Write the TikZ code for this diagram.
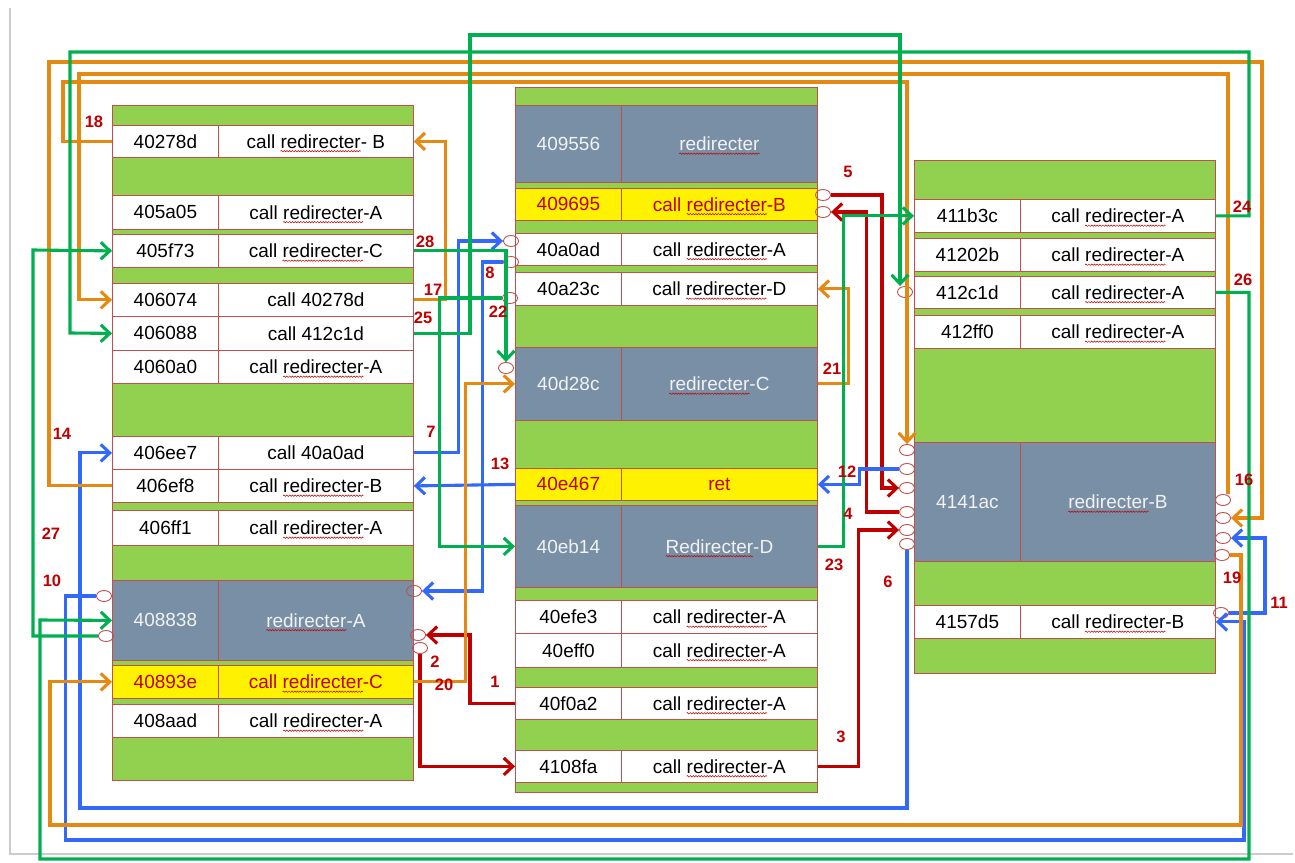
\documentclass[tikz,border=0pt]{standalone}
\usepackage{fontspec}
\setmainfont{Liberation Sans}
\usepackage{tikz}
\usetikzlibrary{arrows.meta,shapes.geometric,decorations.pathmorphing}
\definecolor{lgreen}{RGB}{146,208,80}
\definecolor{slate}{RGB}{120,143,166}
\definecolor{cellln}{RGB}{192,80,77}
\definecolor{hotred}{RGB}{192,0,0}
\definecolor{wgreen}{RGB}{0,176,80}
\definecolor{worange}{RGB}{228,138,18}
\definecolor{wblue}{RGB}{50,105,250}
\definecolor{wred}{RGB}{192,0,0}
\newcommand{\cellfont}{\fontsize{19}{22}\selectfont}
\newcommand{\numfont}{\fontsize{16.5}{19}\selectfont\bfseries}
\newlength{\sqwd}
\newcommand{\squig}[1]{\settowidth{\sqwd}{#1}\rlap{\tikz[overlay]\draw[draw=hotred,line width=0.5pt,decorate,decoration={snake,amplitude=0.7pt,segment length=2.8pt}] (0pt,-3pt) -- (\sqwd,-3pt);}#1}
\tikzset{
  cell/.style={draw=cellln, line width=0.8pt, fill=white, inner sep=0pt, anchor=north west, font=\cellfont},
  hot/.style={cell, fill=yellow, text=hotred},
  dark/.style={cell, fill=slate, text=white!95!black},
  blk/.style={draw=cellln, line width=0.9pt, fill=lgreen},
  port/.style={ellipse, draw=cellln, line width=0.9pt, minimum width=15pt, minimum height=11pt, inner sep=0pt},
  num/.style={font=\numfont, text=hotred, inner sep=0pt},
  lnk/.style={line width=3.1pt, -{Straight Barb[length=9pt,width=17pt]}},
  gr/.style={lnk, draw=wgreen},
  or/.style={lnk, draw=worange},
  bl/.style={lnk, draw=wblue},
  rd/.style={lnk, draw=wred},
  pageln/.style={draw=black!20, line width=1.8pt}
}
\begin{document}
\begin{tikzpicture}[x=1pt,y=-1pt]
\useasboundingbox (0,0) rectangle (1295,862);
\draw[pageln] (10,8) -- (10,854) -- (1293,854);
% left column
\draw[blk] (112,105) rectangle (413,780);
\foreach \n/\y/\h/\sty/\txt in {
40278d/125/32/cell/{call \squig{redirecter}- B},
405a05/195/34/cell/{call \squig{redirecter}-A},
405f73/234/33/cell/{call \squig{redirecter}-C},
406074/283/33/cell/{call 40278d},
406088/316/34/cell/{call 412c1d},
4060a0/350/33/cell/{call \squig{redirecter}-A},
406ee7/436/33/cell/{call 40a0ad},
406ef8/469/33/cell/{call \squig{redirecter}-B},
406ff1/510/35/cell/{call \squig{redirecter}-A},
408838/580/80/dark/{\squig{redirecter}-A},
40893e/665/33/hot/{call \squig{redirecter}-C},
408aad/704/33/cell/{call \squig{redirecter}-A}}{
  \node[\sty, minimum width=106, minimum height=\h] (a\n) at (112,\y) {\n};
  \node[\sty, minimum width=195, minimum height=\h] (t\n) at (218,\y) {\txt};
}
% middle column
\draw[blk] (515,87) rectangle (817,792);
\foreach \n/\y/\h/\sty/\txt in {
409556/105/77/dark/{\squig{redirecter}},
409695/188/32/hot/{call \squig{redirecter}-B},
40a0ad/233/32/cell/{call \squig{redirecter}-A},
40a23c/272/33/cell/{call \squig{redirecter}-D},
40d28c/347/73/dark/{\squig{redirecter}-C},
40e467/468/32/hot/{ret},
40eb14/505/82/dark/{\squig{Redirecter}-D},
40efe3/600/33/cell/{call \squig{redirecter}-A},
40eff0/633/34/cell/{call \squig{redirecter}-A},
40f0a2/687/32/cell/{call \squig{redirecter}-A},
4108fa/750/32/cell/{call \squig{redirecter}-A}}{
  \node[\sty, minimum width=106, minimum height=\h] (a\n) at (515,\y) {\n};
  \node[\sty, minimum width=196, minimum height=\h] (t\n) at (621,\y) {\txt};
}
% right column
\draw[blk] (914,160) rectangle (1215,673);
\foreach \n/\y/\h/\sty/\txt in {
411b3c/199/33/cell/{call \squig{redirecter}-A},
41202b/238/33/cell/{call \squig{redirecter}-A},
412c1d/276/32/cell/{call \squig{redirecter}-A},
412ff0/315/33/cell/{call \squig{redirecter}-A},
4141ac/442/119/dark/{\squig{redirecter}-B},
4157d5/605/33/cell/{call \squig{redirecter}-B}}{
  \node[\sty, minimum width=106, minimum height=\h] (a\n) at (914,\y) {\n};
  \node[\sty, minimum width=195, minimum height=\h] (t\n) at (1020,\y) {\txt};
}
% ports
\foreach \n/\x/\y in {409695a/823/195, 409695b/823/212, 40a0ada/511/241, 40a0adb/511/262,
  40a23c/510/298, 40d28c/506/368, 412c1d/905/292,
  4141acL1/907/450, 4141acL2/907/469, 4141acL3/907/488, 4141acL4/907/512, 4141acL5/907/530, 4141acL6/907/544,
  4141acR1/1223/500, 4141acR2/1223/518, 4141acR3/1223/538, 4141acR4/1222/555, 4157d5/1221/613,
  408838L1/104/596, 408838L2/106/636, 408838R1/414/591, 408838R2/418/635, 408838R3/420/648}
  \node[port] (p\n) at (\x,\y) {};
% red
\draw[rd] (a40f0a2.west) -- ++(-45,0) |- (p408838R2);
\draw[rd] (p408838R3.south) |- (a4108fa.west);
\draw[rd] (t4108fa.east) -- ++(41,0) |- (p4141acL5);
\draw[rd] (p4141acL4.west) -- ++(-33,0) |- (p409695b);
\draw[rd] (p409695a.east) -- ++(51,0) |- (p4141acL3);
% blue
\draw[bl] (p4141acL6.south) |- (80,808) |- (a406ee7.west);
\draw[bl] (t406ee7.east) -- ++(45,0) |- (p40a0ada);
\draw[bl] (p40a0adb.west) -- ++(-21,0) |- (p408838R1);
\draw[bl] (p408838L1.west) -- ++(-31,0) |- (1244,840) |- (t4157d5.east);
\draw[bl] (p4157d5.east) -- ++(36,0) |- (p4141acR3);
\draw[bl] (p4141acL2.west) -- ++(-40,0) |- (t40e467.east);
\draw[bl] (a40e467.west) -- (t406ef8.east);
% orange
\draw[or] (a406ef8.west) -| (49,62) -| (1262,518) -- (p4141acR2);
\draw[or] ([xshift=5pt]p4141acR1.north) |- (79,74) |- (a406074.west);
\draw[or] (t406074.east) -- ++(32,0) |- (t40278d.east);
\draw[or] (a40278d.west) -| (63,82) -| (p4141acL1);
\draw[or] (p4141acR4.east) -- ++(11,0) |- (50,825) |- (a40893e.west);
\draw[or] (t40893e.east) -- ++(52,0) |- (a40d28c.west);
\draw[or] (t40d28c.east) -- ++(31,0) |- (t40a23c.east);
% green
\draw[gr] (p40a23c.west) -- ++(-63,0) |- (a40eb14.west);
\draw[gr] (t40eb14.east) -- ++(26,0) |- (a411b3c.west);
\draw[gr] (t411b3c.east) -| (1249,52) -| (70,333) -- (a406088.west);
\draw[gr] (t406088.east) -| (470,35) -| ([xshift=-5pt]p412c1d.north);
\draw[gr] (t412c1d.east) -| (1249,859) -| (40,620) -- (a408838.west);
\draw[gr] (p408838L2.west) -| (33,250) -- (a405f73.west);
\draw[gr] (t405f73.east) -| (p40d28c);
% step numbers
\foreach \k/\x/\y in {1/495/682, 2/435/662, 3/841/737, 4/848/514, 5/848/172, 6/888/582,
  7/431/432, 8/490/273, 10/52/581, 11/1279/603, 12/847/472, 13/500/464, 14/62/434,
  16/1244/480, 17/433/290, 18/94/122, 19/1232/578, 20/444/685, 21/832/369, 22/498/312,
  23/834/565, 24/1242/207, 25/423/318, 26/1243/280, 27/51/534, 28/425/242}
  \node[num] (n\k) at (\x,\y) {\k};
\end{tikzpicture}
\end{document}
